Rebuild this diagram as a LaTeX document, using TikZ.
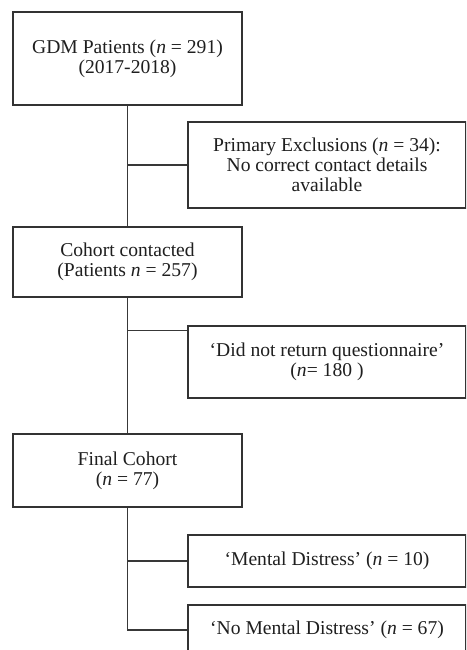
\documentclass[tikz,border=0pt]{standalone}
\usepackage{fontspec}
\setmainfont{Liberation Serif}
\begin{document}
\begin{tikzpicture}[x=1pt,y=-1pt,
  box/.style={draw=black!80, line width=1.2pt, rectangle, align=center, inner sep=0pt,
    font=\fontsize{19.6}{20}\selectfont, text=black!88},
  lbox/.style={box, minimum width=229pt},
  rbox/.style={box, minimum width=278pt},
  conn/.style={draw=black!78, line width=1.2pt}]
\useasboundingbox (0,0) rectangle (466,650);
\clip (0,0) rectangle (466,650);
\fill[white] (0,0) rectangle (466,650);

\node[lbox, minimum height=93pt] (b1) at (127.5,58.5) {GDM Patients (\textit{n} = 291)\\(2017-2018)};
\node[rbox, minimum height=86pt] (b2) at (327,165) {Primary Exclusions (\textit{n} = 34):\\No correct contact details\\available};
\node[lbox, minimum height=70pt] (b3) at (127.5,262) {Cohort contacted\\(Patients \textit{n} = 257)};
\node[rbox, minimum height=72pt] (b4) at (327,362) {‘Did not return questionnaire’\\(\textit{n}= 180 )};
\node[lbox, minimum height=73pt] (b5) at (127.5,470.5) {Final Cohort\\(\textit{n} = 77)};
\node[rbox, minimum height=52pt] (b6) at (327,561) {‘Mental Distress’ (\textit{n} = 10)};
\node[rbox, minimum height=50pt] (b7) at (327,630) {‘No Mental Distress’ (\textit{n} = 67)};

\coordinate (j4) at ([yshift=-5pt]b4.north west);

\draw[conn] (b1.south) -- (b3.north);
\draw[conn] (b1.south |- b2.west) -- (b2.west);
\draw[conn] (b3.south) -- (b5.north);
\draw[conn] (b3.south |- j4) -- (j4);
\draw[conn] (b5.south) |- (b7.west);
\draw[conn] (b5.south |- b6.west) -- (b6.west);
\end{tikzpicture}
\end{document}
